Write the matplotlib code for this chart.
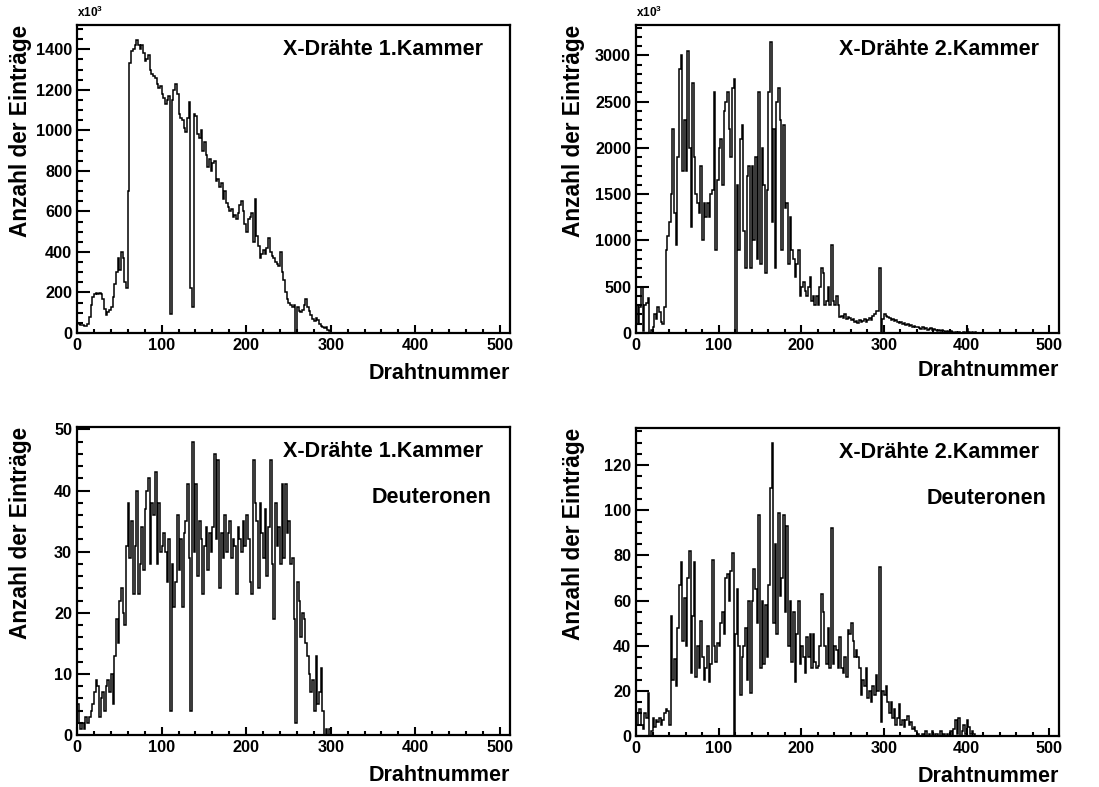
import numpy as np
import matplotlib
matplotlib.use("Agg")
import matplotlib.pyplot as plt
from matplotlib.ticker import MultipleLocator

plt.rcParams['font.family'] = ['Liberation Sans', 'DejaVu Sans']
plt.rcParams['font.weight'] = 'bold'
plt.rcParams['mathtext.fontset'] = 'custom'
plt.rcParams['mathtext.rm'] = 'Liberation Sans'

# bin width in wires (2 wires per bin)
BIN = 2

# X-Draehte 1.Kammer, all hits (x10^3)
kammer1 = [50, 45, 40, 38, 35, 32, 45, 80, 140, 180,
           190, 195, 190, 195, 190, 170, 120, 90, 105, 115,
           130, 180, 240, 300, 370, 310, 400, 370, 250, 220,
           700, 1330, 1390, 1400, 1420, 1445, 1420, 1400, 1420, 1380,
           1340, 1350, 1370, 1300, 1280, 1270, 1260, 1230, 1210, 1220,
           1180, 1160, 1130, 1150, 1170, 95, 1150, 1200, 1230, 1180,
           1080, 1060, 1050, 1010, 990, 1060, 1140, 220, 130, 1080,
           1070, 980, 960, 1000, 900, 940, 880, 820, 860, 800,
           840, 850, 750, 760, 720, 740, 660, 700, 640, 620,
           600, 610, 570, 580, 560, 590, 630, 650, 600, 540,
           500, 560, 570, 590, 450, 660, 480, 430, 370, 390,
           410, 390, 420, 470, 400, 380, 370, 350, 340, 330,
           400, 300, 260, 200, 170, 150, 140, 130, 140, 0,
           130, 110, 105, 115, 140, 170, 130, 110, 90, 70,
           60, 75, 65, 45, 35, 30, 25, 30, 15, 10]

# X-Draehte 2.Kammer, all hits (x10^3)
kammer2 = [300, 100, 280, 500, 20, 300, 320, 380, 0, 30,
           60, 200, 150, 280, 230, 120, 100, 280, 900, 1050,
           1200, 1500, 2200, 1300, 950, 1900, 2850, 3000, 1750, 2300,
           1750, 3050, 2000, 1150, 2700, 1900, 1500, 1400, 1300, 1800,
           1000, 1400, 1250, 1400, 1250, 1500, 1550, 2600, 900, 1650,
           2000, 2100, 1600, 2400, 2500, 2600, 2200, 1900, 2650, 2750,
           0, 1600, 900, 2100, 2250, 1100, 700, 1700, 1800, 700,
           1800, 1000, 1900, 800, 2600, 750, 2000, 1600, 650, 1550,
           2600, 3150, 1200, 2200, 700, 2500, 2650, 2300, 900, 2250,
           1350, 1400, 750, 1250, 900, 800, 600, 750, 900, 400,
           500, 550, 450, 400, 500, 600, 350, 400, 300, 400,
           300, 500, 700, 650, 300, 350, 500, 300, 950, 350,
           300, 400, 300, 170, 180, 160, 200, 150, 170, 160,
           140, 150, 120, 130, 110, 140, 120, 130, 150, 120,
           140, 160, 140, 180, 200, 240, 240, 700, 0, 150,
           200, 180, 170, 160, 140, 150, 130, 140, 120, 110,
           120, 100, 110, 90, 100, 80, 90, 70, 80, 60,
           70, 50, 40, 60, 40, 50, 30, 40, 50, 30,
           40, 30, 20, 30, 20, 30, 20, 10, 20, 10,
           20, 10, 5, 10, 5, 10, 0, 5, 15, 5,
           40, 10, 5, 15, 5, 10]

# X-Draehte 1.Kammer, Deuteronen
deut1 = [5, 2, 1, 2, 1, 3, 2, 3, 4, 5,
         7, 9, 8, 3, 6, 7, 4, 8, 9, 7,
         10, 5, 13, 19, 15, 22, 24, 20, 18, 31,
         38, 29, 35, 23, 31, 40, 23, 28, 34, 27,
         37, 40, 42, 28, 38, 36, 43, 28, 38, 30,
         31, 33, 30, 25, 32, 4, 28, 21, 25, 36,
         27, 32, 21, 33, 35, 41, 29, 4, 48, 30,
         41, 26, 35, 32, 23, 31, 34, 27, 33, 30,
         34, 46, 32, 45, 24, 33, 29, 36, 30, 33,
         35, 29, 32, 31, 23, 34, 32, 30, 35, 31,
         36, 32, 25, 23, 45, 38, 35, 24, 38, 33,
         29, 37, 26, 34, 45, 28, 19, 38, 31, 34,
         28, 41, 29, 41, 33, 35, 28, 29, 19, 2,
         25, 22, 16, 20, 19, 15, 13, 10, 7, 9,
         4, 13, 5, 7, 11, 4, 0, 1, 0, 1]

# X-Draehte 2.Kammer, Deuteronen
deut2 = [5, 10, 12, 5, 3, 10, 8, 19, 0, 2,
         8, 4, 7, 6, 8, 5, 7, 10, 12, 11,
         5, 53, 25, 34, 22, 48, 67, 77, 42, 61,
         40, 70, 82, 28, 53, 77, 26, 40, 30, 51,
         35, 25, 30, 40, 24, 32, 78, 40, 33, 41,
         40, 50, 55, 45, 70, 72, 60, 73, 81, 0,
         45, 65, 40, 18, 35, 40, 48, 25, 60, 19,
         60, 74, 65, 50, 98, 30, 60, 32, 58, 35,
         67, 110, 130, 50, 85, 45, 99, 62, 70, 98,
         55, 93, 40, 60, 33, 55, 24, 45, 60, 32,
         40, 35, 28, 44, 35, 45, 30, 45, 33, 30,
         31, 40, 63, 55, 40, 32, 48, 30, 92, 32,
         40, 38, 30, 44, 30, 28, 35, 26, 47, 45,
         50, 42, 35, 38, 35, 30, 18, 25, 22, 30,
         17, 20, 15, 22, 18, 27, 20, 75, 6, 20,
         18, 22, 15, 10, 15, 8, 12, 5, 8, 14,
         5, 7, 4, 7, 9, 5, 6, 3, 4, 2,
         1, 0, 0, 1, 0, 2, 0, 1, 0, 2,
         0, 1, 1, 0, 2, 0, 1, 0, 1, 0,
         2, 0, 3, 7, 1, 8, 0, 2, 5, 1,
         7, 4, 1, 2, 1, 0]

titel = ["X-Drähte 1.Kammer", "X-Drähte 2.Kammer",
         "X-Drähte 1.Kammer", "X-Drähte 2.Kammer"]
ylims = [1520, 3330, 50.4, 136.5]
ymajor = [200, 500, 10, 20]
yminor = [50, 100, 2, 5]

fig = plt.figure(figsize=(10.99, 7.87), dpi=100)
boxes = [[0.0701, 0.5769, 0.394, 0.3914],
         [0.5787, 0.5769, 0.385, 0.3914],
         [0.0701, 0.0661, 0.394, 0.3914],
         [0.5787, 0.0648, 0.385, 0.3914]]
daten = [kammer1, kammer2, deut1, deut2]

for i in range(4):
    ax = fig.add_axes(boxes[i])
    vals = np.array(daten[i])
    edges = np.arange(len(vals) + 1) * BIN
    ax.stairs(vals, edges, color='black', lw=1.1)
    ax.set_xlim(0, 512)
    ax.set_ylim(0, ylims[i])
    for s in ax.spines.values():
        s.set_linewidth(1.6)
    ax.xaxis.set_major_locator(MultipleLocator(100))
    ax.xaxis.set_minor_locator(MultipleLocator(20))
    ax.yaxis.set_major_locator(MultipleLocator(ymajor[i]))
    ax.yaxis.set_minor_locator(MultipleLocator(yminor[i]))
    ax.tick_params(axis='x', which='major', direction='in', length=6, width=1.5,
                   labelsize=11.7, pad=3.5)
    ax.tick_params(axis='x', which='minor', direction='in', length=3, width=1.5)
    ax.tick_params(axis='y', which='major', direction='in', length=9, width=1.5,
                   labelsize=11.7, pad=3.5)
    ax.tick_params(axis='y', which='minor', direction='in', length=4.5, width=1.5)
    for lab in ax.get_xticklabels() + ax.get_yticklabels():
        lab.set_fontweight('bold')
    ax.set_xlabel('Drahtnummer', fontsize=15.5, fontweight='bold', ha='right')
    ax.set_ylabel('Anzahl der Einträge', fontsize=16.3, fontweight='bold', ha='right')
    ax.xaxis.set_label_coords(1.0, -0.097 if i != 1 else -0.088)
    ax.yaxis.set_label_coords(-0.105 if i % 2 == 0 else -0.12, 1.0)
    ax.text(0.938 if i % 2 == 0 else 0.953, 0.92, titel[i], transform=ax.transAxes,
            ha='right', va='center', fontsize=15.5, fontweight='bold')
    if i >= 2:
        ax.text(0.958 if i == 2 else 0.971, 0.772, 'Deuteronen', transform=ax.transAxes,
                ha='right', va='center', fontsize=15.5, fontweight='bold')
    else:
        ax.text(0.0, 1.015, 'x10$^{3}$', transform=ax.transAxes,
                ha='left', va='bottom', fontsize=8.5, fontweight='bold')

fig.savefig('out.png', dpi=100)
